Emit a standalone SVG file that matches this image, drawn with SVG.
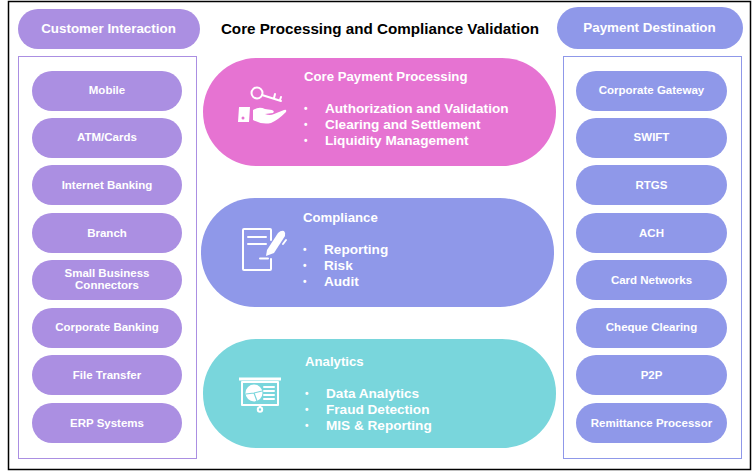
<svg xmlns="http://www.w3.org/2000/svg" width="756" height="473" viewBox="0 0 756 473">
<style>
text{font-family:"Liberation Sans",Arial,sans-serif;font-weight:700;fill:#fff}
.p{fill:#ab8fe2}.b{fill:#8f98e9}
.s{font-size:11.500px;text-anchor:middle}
.h{font-size:13.400px;text-anchor:middle}
.t{font-size:13.200px}.l{font-size:13.600px}.d{font-size:10px}
.i{fill:none;stroke:#fff;stroke-width:2;stroke-linecap:round;stroke-linejoin:round}
.f{fill:#fff}
</style>
<rect x="8.500" y="1.500" width="742" height="468" fill="#fff" stroke="#000" stroke-width="1.500"/>
<g id="connectors"/>
<g id="customer-header"><rect class="p" x="18" y="9" width="182" height="40" rx="20"/><text class="h" x="108.500" y="33">Customer Interaction</text></g>
<g id="title"><text x="380" y="34" font-size="15.200" text-anchor="middle" style="fill:#000">Core Processing and Compliance Validation</text></g>
<g id="destination-header"><rect class="b" x="557" y="7" width="186" height="42" rx="21"/><text class="h" x="649.500" y="32">Payment Destination</text></g>
<rect id="customer-panel" x="18.500" y="56.500" width="178" height="402" fill="none" stroke="#ab8fe2"/>
<rect id="destination-panel" x="563.500" y="56.500" width="178" height="402" fill="none" stroke="#8f98e9"/>
<g id="n-mobile"><rect class="p" x="32" y="71" width="150" height="40" rx="20"/><text class="s" x="107" y="94">Mobile</text></g>
<g id="n-atm"><rect class="p" x="32" y="118" width="150" height="40" rx="20"/><text class="s" x="107" y="141">ATM/Cards</text></g>
<g id="n-internet"><rect class="p" x="32" y="165" width="150" height="40" rx="20"/><text class="s" x="107" y="189">Internet Banking</text></g>
<g id="n-branch"><rect class="p" x="32" y="213" width="150" height="40" rx="20"/><text class="s" x="107" y="237">Branch</text></g>
<g id="n-small"><rect class="p" x="32" y="260" width="150" height="40" rx="20"/><text class="s" x="107" y="277">Small Business</text><text class="s" x="107" y="289">Connectors</text></g>
<g id="n-corporate"><rect class="p" x="32" y="308" width="150" height="40" rx="20"/><text class="s" x="107" y="331">Corporate Banking</text></g>
<g id="n-file"><rect class="p" x="32" y="355" width="150" height="40" rx="20"/><text class="s" x="107" y="379">File Transfer</text></g>
<g id="n-erp"><rect class="p" x="32" y="403" width="150" height="40" rx="20"/><text class="s" x="107" y="427">ERP Systems</text></g>
<g id="d-gateway"><rect class="b" x="576" y="71" width="151" height="40" rx="20"/><text class="s" x="651.500" y="94">Corporate Gateway</text></g>
<g id="d-swift"><rect class="b" x="576" y="118" width="151" height="40" rx="20"/><text class="s" x="651.500" y="141">SWIFT</text></g>
<g id="d-rtgs"><rect class="b" x="576" y="165" width="151" height="40" rx="20"/><text class="s" x="651.500" y="189">RTGS</text></g>
<g id="d-ach"><rect class="b" x="576" y="213" width="151" height="40" rx="20"/><text class="s" x="651.500" y="237">ACH</text></g>
<g id="d-card"><rect class="b" x="576" y="260" width="151" height="40" rx="20"/><text class="s" x="651.500" y="284">Card Networks</text></g>
<g id="d-cheque"><rect class="b" x="576" y="308" width="151" height="40" rx="20"/><text class="s" x="651.500" y="331">Cheque Clearing</text></g>
<g id="d-p2p"><rect class="b" x="576" y="355" width="151" height="40" rx="20"/><text class="s" x="651.500" y="379">P2P</text></g>
<g id="d-remit"><rect class="b" x="576" y="403" width="151" height="40" rx="20"/><text class="s" x="651.500" y="427">Remittance Processor</text></g>
<g id="core-payment">
<rect x="203" y="58" width="353" height="108" rx="54" fill="#e673d2"/>
<text class="t" x="304" y="81">Core Payment Processing</text>
<text class="d" x="304" y="112">•</text><text class="l" x="325" y="113">Authorization and Validation</text><text class="d" x="304" y="128">•</text><text class="l" x="325" y="129">Clearing and Settlement</text><text class="d" x="304" y="144">•</text><text class="l" x="325" y="145">Liquidity Management</text>
<g>
<circle class="i" cx="257" cy="93" r="5.500" stroke-width="3"/>
<path class="i" d="M262 95L281 101" stroke-width="3.500"/><path class="i" d="M274 98l1-4M280 100l1-3" stroke-width="2.500"/>
<path class="f" d="M239 107h11l-1 15h-11zM253 110q6-4 12-1l7 1q3 1 1 3l-8 1q5 2 9 0l10-4q3-1 2 2q-8 8-15 11q-9 2-18-3z"/>
<circle cx="243" cy="118" r="1.500" fill="#e673d2"/>
</g>
</g>
<g id="compliance">
<rect x="201" y="198" width="353" height="109" rx="54" fill="#8f98e9"/>
<text class="t" x="303" y="222">Compliance</text>
<text class="d" x="303" y="253">•</text><text class="l" x="324" y="254">Reporting</text><text class="d" x="303" y="269">•</text><text class="l" x="324" y="270">Risk</text><text class="d" x="303" y="285">•</text><text class="l" x="324" y="286">Audit</text>
<g>
<path class="i" d="M271 240v-10q0-1-1-1h-26q-1 0-1 1v39q0 1 1 1h26q1 0 1-1v-10" fill="none"/>
<path class="i" d="M248 237h18M248 244h18"/>
<path class="i" d="M260 258.500h8" stroke-width="2.500"/>
<path class="f" d="M266 256l1-6 11-17q3-3 6-2q2 2 1 5l-11 17z"/>
<path class="i" d="M283 244l3-4" stroke-width="1"/>
</g>
</g>
<g id="analytics">
<rect x="203" y="339" width="353" height="109" rx="54" fill="#79d6dc"/>
<text class="t" x="305" y="366">Analytics</text>
<text class="d" x="305" y="397">•</text><text class="l" x="326" y="398">Data Analytics</text><text class="d" x="305" y="413">•</text><text class="l" x="326" y="414">Fraud Detection</text><text class="d" x="305" y="429">•</text><text class="l" x="326" y="430">MIS &amp; Reporting</text>
<g>
<path class="f" d="M239 377.500h42v3h-42z"/>
<rect class="i" x="242" y="382" width="36" height="23" stroke-linejoin="miter"/>
<circle class="f" cx="254" cy="393" r="8.500"/>
<path d="M254 393l8-2M254 393l-8 1M254 393l3 8" stroke="#79d6dc" stroke-width="1.200"/>
<path class="i" d="M264 387h10M264 391h10M264 395h10M264 399h10" stroke-width="1.300" stroke-linecap="butt"/>
<path class="i" d="M260 405v2" stroke-width="1.500"/>
<circle class="i" cx="260" cy="409.500" r="2.200" stroke-width="1.500"/>
</g>
</g>
</svg>
